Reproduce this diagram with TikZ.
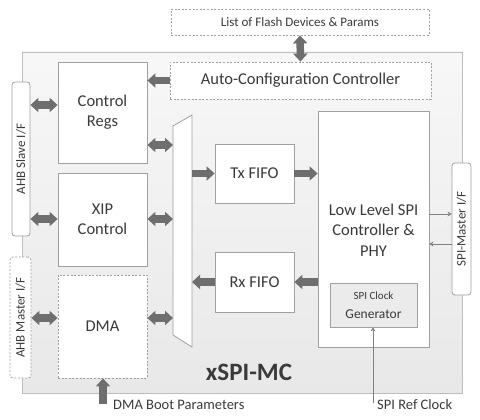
\documentclass[tikz,border=0pt]{standalone}
\usepackage{fontspec}
\setmainfont{Carlito}
\usetikzlibrary{arrows.meta,calc}
\definecolor{txt}{HTML}{3A3A3A}
\definecolor{bord}{HTML}{A0A0A0}
\definecolor{outerb}{HTML}{BDBDBD}
\definecolor{arr}{HTML}{6E6E6E}
\definecolor{thin}{HTML}{808080}
\definecolor{clkfill}{HTML}{EBEBEB}
\begin{document}
\begin{tikzpicture}[x=1pt,y=-1pt,
  box/.style={draw=bord, line width=0.8pt, fill=white, inner sep=0pt, align=center, text=txt, font=\fontsize{16.5}{20}\selectfont},
  dbox/.style={box, dash pattern=on 2pt off 1.6pt},
  iface/.style={box, rounded corners=3pt},
  blk/.style={line width=7.5pt, draw=arr, -{Triangle[width=14pt,length=8pt]}},
  dbl/.style={blk, {Triangle[width=14pt,length=8pt]}-{Triangle[width=14pt,length=8pt]}},
  thinarr/.style={draw=thin, line width=0.8pt, -{Stealth[width=5pt,length=4pt]}},
  lbl/.style={text=txt, font=\fontsize{13}{15}\selectfont, inner sep=0pt}
]
\useasboundingbox (0,0) rectangle (480,420);
% outer box
\shade[top color=gray!6, bottom color=gray!18] (22,52) rectangle (462,393);
\draw[outerb, line width=0.8pt] (22,52) rectangle (462,393);

% interface boxes
\node[iface, minimum width=18pt, minimum height=154pt] (slave) at (21,159) {};
\node[lbl, rotate=90] at (slave) {AHB Slave I/F};
\node[iface, dash pattern=on 2pt off 1.6pt, minimum width=21pt, minimum height=121pt] (master) at (20.5,317.5) {};
\node[lbl, rotate=90] at (master) {AHB Master I/F};
\node[iface, minimum width=19pt, minimum height=132pt] (smi) at (461.5,229) {};
\node[lbl, rotate=90] at (smi) {SPI-Master I/F};

% top boxes
\node[dbox, minimum width=258pt, minimum height=26pt, font=\fontsize{13}{15}\selectfont] (list) at (300,22) {List of Flash Devices \& Params};
\node[dbox, minimum width=261pt, minimum height=37pt, font=\fontsize{16.5}{20}\selectfont] (auto) at (300.5,80.5) {Auto-Configuration Controller};

% left column
\node[box, minimum width=89pt, minimum height=101pt] (cr) at (102.5,112.5) {Control\\Regs};
\node[box, minimum width=89pt, minimum height=93pt] (xip) at (102.5,219.5) {XIP\\Control};
\node[dbox, minimum width=89pt, minimum height=103pt] (dma) at (102.5,326.5) {DMA};

% mux
\coordinate (m1) at (173,126);
\coordinate (m2) at (192,115);
\coordinate (m3) at (192,347);
\coordinate (m4) at (173,335);
\draw[bord, line width=0.8pt, fill=white] (m1) -- (m2) -- (m3) -- (m4) -- cycle;

% FIFOs
\node[box, minimum width=79pt, minimum height=59pt] (tx) at (254.5,173.5) {Tx FIFO};
\node[box, minimum width=79pt, minimum height=60pt] (rx) at (254.5,282) {Rx FIFO};

% low level
\node[box, minimum width=111pt, minimum height=236pt] (ll) at (373.5,229) {};
\node[text=txt, align=center, font=\fontsize{16.5}{20.5}\selectfont, inner sep=0pt] at (373.5,230) {Low Level SPI\\Controller \&\\PHY};
\node[box, fill=clkfill, minimum width=87pt, minimum height=44pt] (clk) at (373.5,305) {{\fontsize{11}{13}\selectfont SPI Clock}\\[-1pt]{\fontsize{13.5}{16}\selectfont Generator}};

% title
\node[text=txt, font=\bfseries\fontsize{25}{30}\selectfont, inner sep=0pt] (title) at (249,372) {xSPI-MC};

% external labels
\node[lbl, anchor=west, font=\fontsize{14.5}{17}\selectfont] (boot) at (113,405) {DMA Boot Parameters};
\node[lbl, anchor=west, font=\fontsize{14.5}{17}\selectfont] (ref) at (377,405) {SPI Ref Clock};
\coordinate (bootin) at (103,403.5);
\coordinate (refin) at (373,403);

% block arrows
\draw[dbl] (list.south) -- (auto.north);
\draw[blk] (auto.west) -- (cr.east |- auto.west);
\draw[dbl] (slave.east |- 0,105) -- (cr.west |- 0,105);
\draw[dbl] (cr.east |- 0,145) -- (m1 |- 0,145);
\draw[dbl] (slave.east |- 0,219) -- (xip.west |- 0,219);
\draw[dbl] (xip.east |- 0,219) -- (m1 |- 0,219);
\draw[dbl] (master.east |- 0,318) -- (dma.west |- 0,318);
\draw[dbl] (dma.east |- 0,318) -- (m1 |- 0,318);
\draw[blk] (m2 |- tx.west) -- (tx.west);
\draw[blk] (tx.east) -- (ll.west |- tx.east);
\draw[blk] (rx.west) -- (m2 |- rx.west);
\draw[blk] (ll.west |- rx.east) -- (rx.east);
\draw[blk] (bootin) -- (dma.south -| bootin);

% thin arrows
\draw[thinarr] (ll.east |- 0,214) -- (smi.west |- 0,214);
\draw[thinarr] (smi.west |- 0,244) -- (ll.east |- 0,244);
\draw[thinarr] (refin) -- (clk.south -| refin);
\end{tikzpicture}
\end{document}
